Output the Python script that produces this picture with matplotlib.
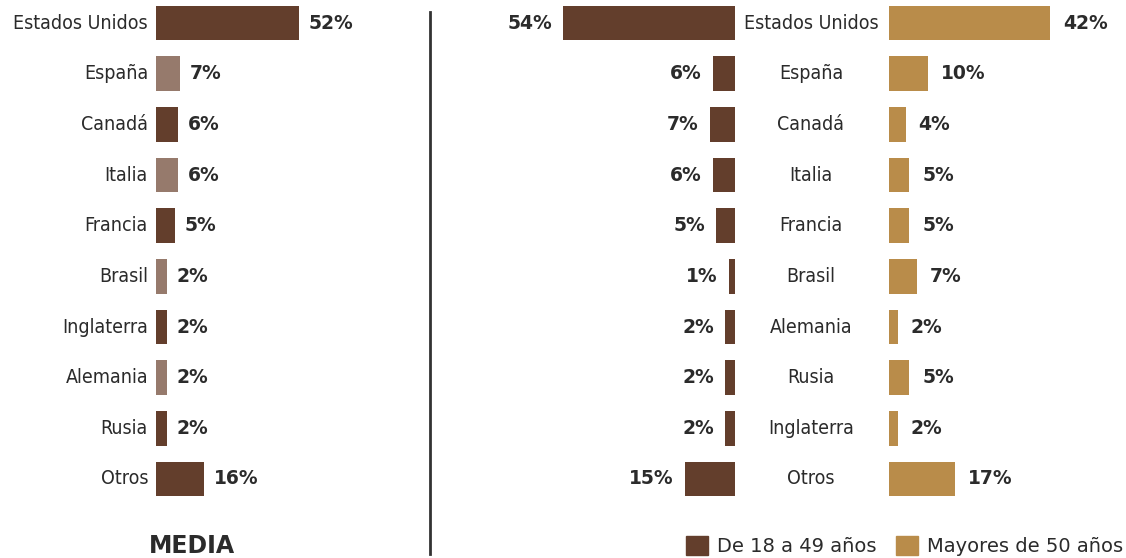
import matplotlib
matplotlib.use('Agg')
import matplotlib.pyplot as plt
import matplotlib.transforms as mtransforms
from matplotlib.patches import Patch

# Datos
paises_media = ['Estados Unidos', 'España', 'Canadá', 'Italia', 'Francia',
                'Brasil', 'Inglaterra', 'Alemania', 'Rusia', 'Otros']
valores_media = [52, 7, 6, 6, 5, 2, 2, 2, 2, 16]
tonos_media = ['osc', 'cla', 'osc', 'cla', 'osc', 'cla', 'osc', 'cla', 'osc', 'osc']

paises_edad = ['Estados Unidos', 'España', 'Canadá', 'Italia', 'Francia',
               'Brasil', 'Alemania', 'Rusia', 'Inglaterra', 'Otros']
jovenes = [54, 6, 7, 6, 5, 1, 2, 2, 2, 15]
mayores = [42, 10, 4, 5, 5, 7, 2, 5, 2, 17]

OSCURO = '#633e2c'
CLARO = '#967a6c'
TOSTADO = '#b98c4a'
TEXTO = '#2b2b2b'

FUENTE_NOMBRES = dict(family='DejaVu Sans', stretch='condensed', fontsize=14)
FUENTE_VALORES = dict(family='DejaVu Sans', fontweight='bold', fontsize=13.5)

W, H = 1126, 558
fig = plt.figure(figsize=(W / 100, H / 100), dpi=100)

# filas: centros de 23 px a 479 px desde arriba
paso = (479 - 23) / 9
top_px = 23 - paso / 2
bot_px = 479 + paso / 2

def crear_ejes(x0, ancho):
    ax = fig.add_axes([x0 / W, 1 - bot_px / H, ancho / W, (bot_px - top_px) / H])
    ax.set_ylim(9.5, -0.5)
    ax.axis('off')
    return ax

filas = list(range(10))

# Panel izquierdo: MEDIA
esc1, base1 = 2.64, 5.7   # px por punto, base mínima en px
ax1 = crear_ejes(156, 260)
ax1.set_xlim(0, 260 / esc1)
b1 = base1 / esc1
colores = [OSCURO if t == 'osc' else CLARO for t in tonos_media]
ax1.barh(filas, [v + b1 for v in valores_media], height=0.68, color=colores)
for i, (p, v) in enumerate(zip(paises_media, valores_media)):
    ax1.text(-8 / esc1, i, p, ha='right', va='center', color=TEXTO, **FUENTE_NOMBRES)
    ax1.text(v + b1 + 10 / esc1, i, f'{v}%', ha='left', va='center',
             color=TEXTO, **FUENTE_VALORES)

fig.text(192 / W, 1 - 546 / H, 'MEDIA', ha='center', va='center', fontsize=17,
         fontweight='bold', family='DejaVu Sans', color=TEXTO)

# línea divisoria
fig.add_artist(plt.Line2D([430 / W, 430 / W], [1 - 12 / H, 1 - 554 / H],
                          color='#333333', lw=2))

# Panel derecho: por edad
esc2, base2 = 3.125, 3.25
ax2 = crear_ejes(480, 255)
ax2.set_xlim(255 / esc2, 0)
b2 = base2 / esc2
ax2.barh(filas, [v + b2 for v in jovenes], height=0.68, color=OSCURO)
for i, v in enumerate(jovenes):
    ax2.text(v + b2 + 11 / esc2, i, f'{v}%', ha='right', va='center',
             color=TEXTO, **FUENTE_VALORES)

esc3, base3 = 3.8, 1.4
ax3 = crear_ejes(889, 237)
ax3.set_xlim(0, 237 / esc3)
b3 = base3 / esc3
ax3.barh(filas, [v + b3 for v in mayores], height=0.68, color=TOSTADO)
for i, v in enumerate(mayores):
    ax3.text(v + b3 + 13 / esc3, i, f'{v}%', ha='left', va='center',
             color=TEXTO, **FUENTE_VALORES)

trans = mtransforms.blended_transform_factory(fig.transFigure, ax2.transData)
for i, p in enumerate(paises_edad):
    fig.text(811 / W, i, p, transform=trans, ha='center', va='center',
             color=TEXTO, **FUENTE_NOMBRES)

# leyenda
manejadores = [Patch(color=OSCURO, label='De 18 a 49 años'),
               Patch(color=TOSTADO, label='Mayores de 50 años')]
fig.legend(handles=manejadores, loc='center right',
           bbox_to_anchor=(1123 / W, 1 - 546 / H), ncol=2, frameon=False,
           handlelength=1.15, handleheight=1.15, handletextpad=0.45,
           columnspacing=1.0, prop={'size': 14, 'family': 'DejaVu Sans'},
           labelcolor=TEXTO, borderaxespad=0, borderpad=0)

plt.savefig('out.png', dpi=100)
